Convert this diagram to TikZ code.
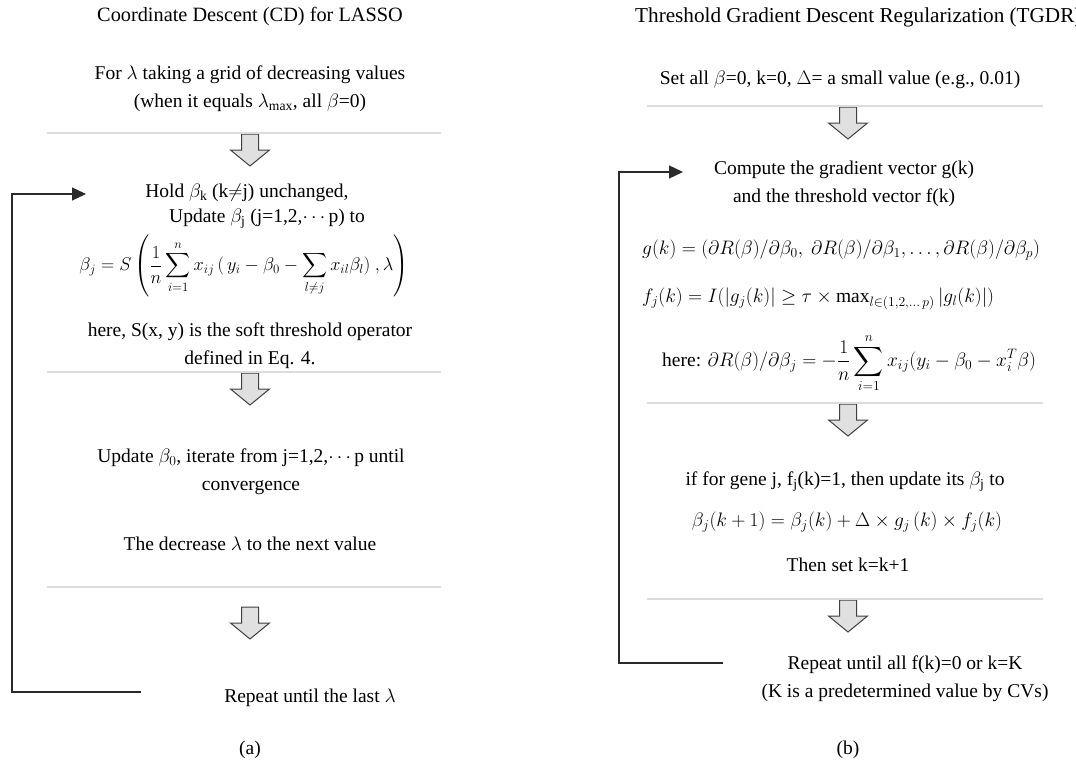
\RequirePackage{fix-cm}
\documentclass[tikz,border=0pt]{standalone}
\usepackage{amsmath}
\usepackage{fontspec}
\setmainfont{Liberation Serif}
\usetikzlibrary{arrows.meta}
\definecolor{sepgray}{HTML}{DCDCDC}
\definecolor{arrfill}{HTML}{E0E0E0}
\definecolor{linedark}{HTML}{2A2A2A}
\tikzset{
  txt/.style={font=\fontsize{19.5}{28}\selectfont, align=center, inner sep=0pt},
  sepline/.style={draw=sepgray, line width=2.6pt},
  fbline/.style={draw=linedark, line width=1.3pt, -{Triangle[length=14pt,width=13pt]}},
  blockarrow/.pic={\draw[draw=black!75, fill=arrfill, line width=1pt, line join=miter]
     (-8.5,0) -- (-8.5,16) -- (-19.5,16) -- (0,32) -- (19.5,16) -- (8.5,16) -- (8.5,0) -- cycle;}
}
\begin{document}
\begin{tikzpicture}[x=1pt,y=-1pt]
\useasboundingbox (0,0) rectangle (1076,763);
\fill[white] (0,0) rectangle (1076,763);
% ---------- panel (a) ----------
\node[txt, font=\fontsize{20.3}{28}\selectfont] (titleA) at (250,17) {Coordinate Descent (CD) for LASSO};
\node[txt] (a1) at (250,89) {For $\lambda$ taking a grid of decreasing values\\(when it equals $\lambda_{\max}$, all $\beta$=0)};
\pic at (250,134) {blockarrow};
\draw[sepline] (47,133) -- (441,133);
\node[txt] (a2hold) at (247,193) {Hold $\beta_{\text{k}}$ (k$\neq$j) unchanged,};
\node[txt] (a2upd) at (267,219) {Update $\beta_{\text{j}}$ (j=1,2,$\cdots$p) to};
\node[txt, font=\fontsize{18.3}{28}\selectfont] (a2eq) at (244,266) {$\displaystyle \beta_j = S\left(\frac{1}{n}\sum_{i=1}^{n}x_{ij}\,(\,y_i-\beta_0-\sum_{l\neq j}x_{il}\beta_l)\ ,\lambda\right)$};
\node[txt] (a2here) at (250,346) {here, S(x, y) is the soft threshold operator\\defined in Eq. 4.};
\pic at (250,373) {blockarrow};
\draw[sepline] (47,372) -- (441,372);
\node[txt] (a3) at (251,472) {Update $\beta_0$, iterate from j=1,2,$\cdots$p until\\convergence};
\node[txt] (a4) at (250,544) {The decrease $\lambda$ to the next value};
\draw[sepline] (47,587) -- (441,587);
\pic at (250,607) {blockarrow};
\node[txt] (a5) at (310,698) {Repeat until the last $\lambda$};
\node[txt] (capA) at (250,750) {(a)};
\coordinate (aS) at (141,692);
\coordinate (aE) at (86,194);
\draw[fbline] (aS) -- (12,692) |- (aE);
% ---------- panel (b) ----------
\begin{scope}
\clip (540,0) rectangle (1076,763);
\node[txt, anchor=west, font=\fontsize{21.2}{28}\selectfont] (titleB) at (635,17) {Threshold Gradient Descent Regularization (TGDR)};
\end{scope}
\node[txt] (b1) at (840,80) {Set all $\beta$=0, k=0, $\Delta$= a small value (e.g., 0.01)};
\pic at (848,107) {blockarrow};
\draw[sepline] (647,106) -- (1043,106);
\node[txt] (b2) at (844,184) {Compute the gradient vector g(k)\\and the threshold vector f(k)};
\node[txt, anchor=west] (b3) at (642,250) {$g(k) = (\partial R(\beta)/\partial\beta_0,\ \partial R(\beta)/\partial\beta_1,\ldots,\partial R(\beta)/\partial\beta_p)$};
\node[txt, anchor=west] (b4) at (642,299) {$f_j(k) = I(|g_j(k)|\geq\tau\times\max_{l\in(1,2,\dots\, p)}|g_l(k)|)$};
\node[txt, anchor=west] (b5) at (662,363) {here: $\displaystyle\partial R(\beta)/\partial\beta_j = -\frac{1}{n}\sum_{i=1}^{n}x_{ij}(y_i-\beta_0-x_i^T\beta)$};
\pic at (848,404) {blockarrow};
\draw[sepline] (647,403) -- (1043,403);
\node[txt] (b6) at (845,482) {if for gene j, f\textsubscript{j}(k)=1, then update its $\beta_{\text{j}}$ to};
\node[txt] (b7) at (847,522) {$\beta_j(k+1) = \beta_j(k) + \Delta\times g_j\,(k)\times f_j(k)$};
\node[txt] (b8) at (848,565) {Then set k=k+1};
\pic at (848,600) {blockarrow};
\draw[sepline] (647,599) -- (1043,599);
\node[txt] (b9) at (905,679) {Repeat until all f(k)=0 or k=K\\(K is a predetermined value by CVs)};
\node[txt] (capB) at (848,750) {(b)};
\coordinate (bS) at (723,663);
\coordinate (bE) at (683,172);
\draw[fbline] (bS) -- (619,663) |- (bE);
\end{tikzpicture}
\end{document}
